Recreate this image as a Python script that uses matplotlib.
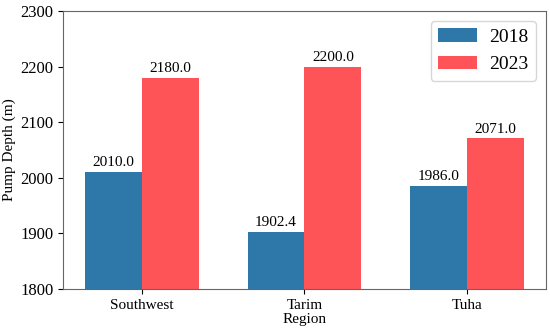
import numpy as np
import matplotlib.pyplot as plt

plt.rcParams['font.family'] = ['Liberation Serif', 'DejaVu Serif']

regions = ['Southwest', 'Tarim', 'Tuha']
depth_2018 = [2010.0, 1902.4, 1986.0]
depth_2023 = [2180.0, 2200.0, 2071.0]
years = ['2018', '2023']

x = np.arange(len(regions))
w = 0.35

fig, ax = plt.subplots(figsize=(5.5, 3.3), dpi=100)
b1 = ax.bar(x - w / 2, depth_2018, w, color='#2e77a9', label=years[0])
b2 = ax.bar(x + w / 2, depth_2023, w, color='#fe5458', label=years[1])

for bars in (b1, b2):
    for r in bars:
        h = r.get_height()
        ax.annotate(f'{h:.1f}', xy=(r.get_x() + r.get_width() / 2, h),
                    xytext=(0, 2), textcoords='offset points',
                    ha='center', va='bottom', fontsize=11)

ax.set_ylim(1800, 2300)
ax.set_yticks([1800, 1900, 2000, 2100, 2200, 2300])
ax.set_xticks(x)
ax.set_xticklabels(regions)
ax.set_xlabel('Region', fontsize=11, labelpad=1)
ax.set_ylabel('Pump Depth (m)', fontsize=11, labelpad=3)
ax.tick_params(axis='y', labelsize=12)
ax.tick_params(axis='x', labelsize=11)
for s in ax.spines.values():
    s.set_color('#666666')
ax.legend(loc='upper right', fontsize=14, handletextpad=0.6)

plt.subplots_adjust(left=0.115, right=0.992, top=0.967, bottom=0.124)
plt.savefig('out.png', dpi=100)
